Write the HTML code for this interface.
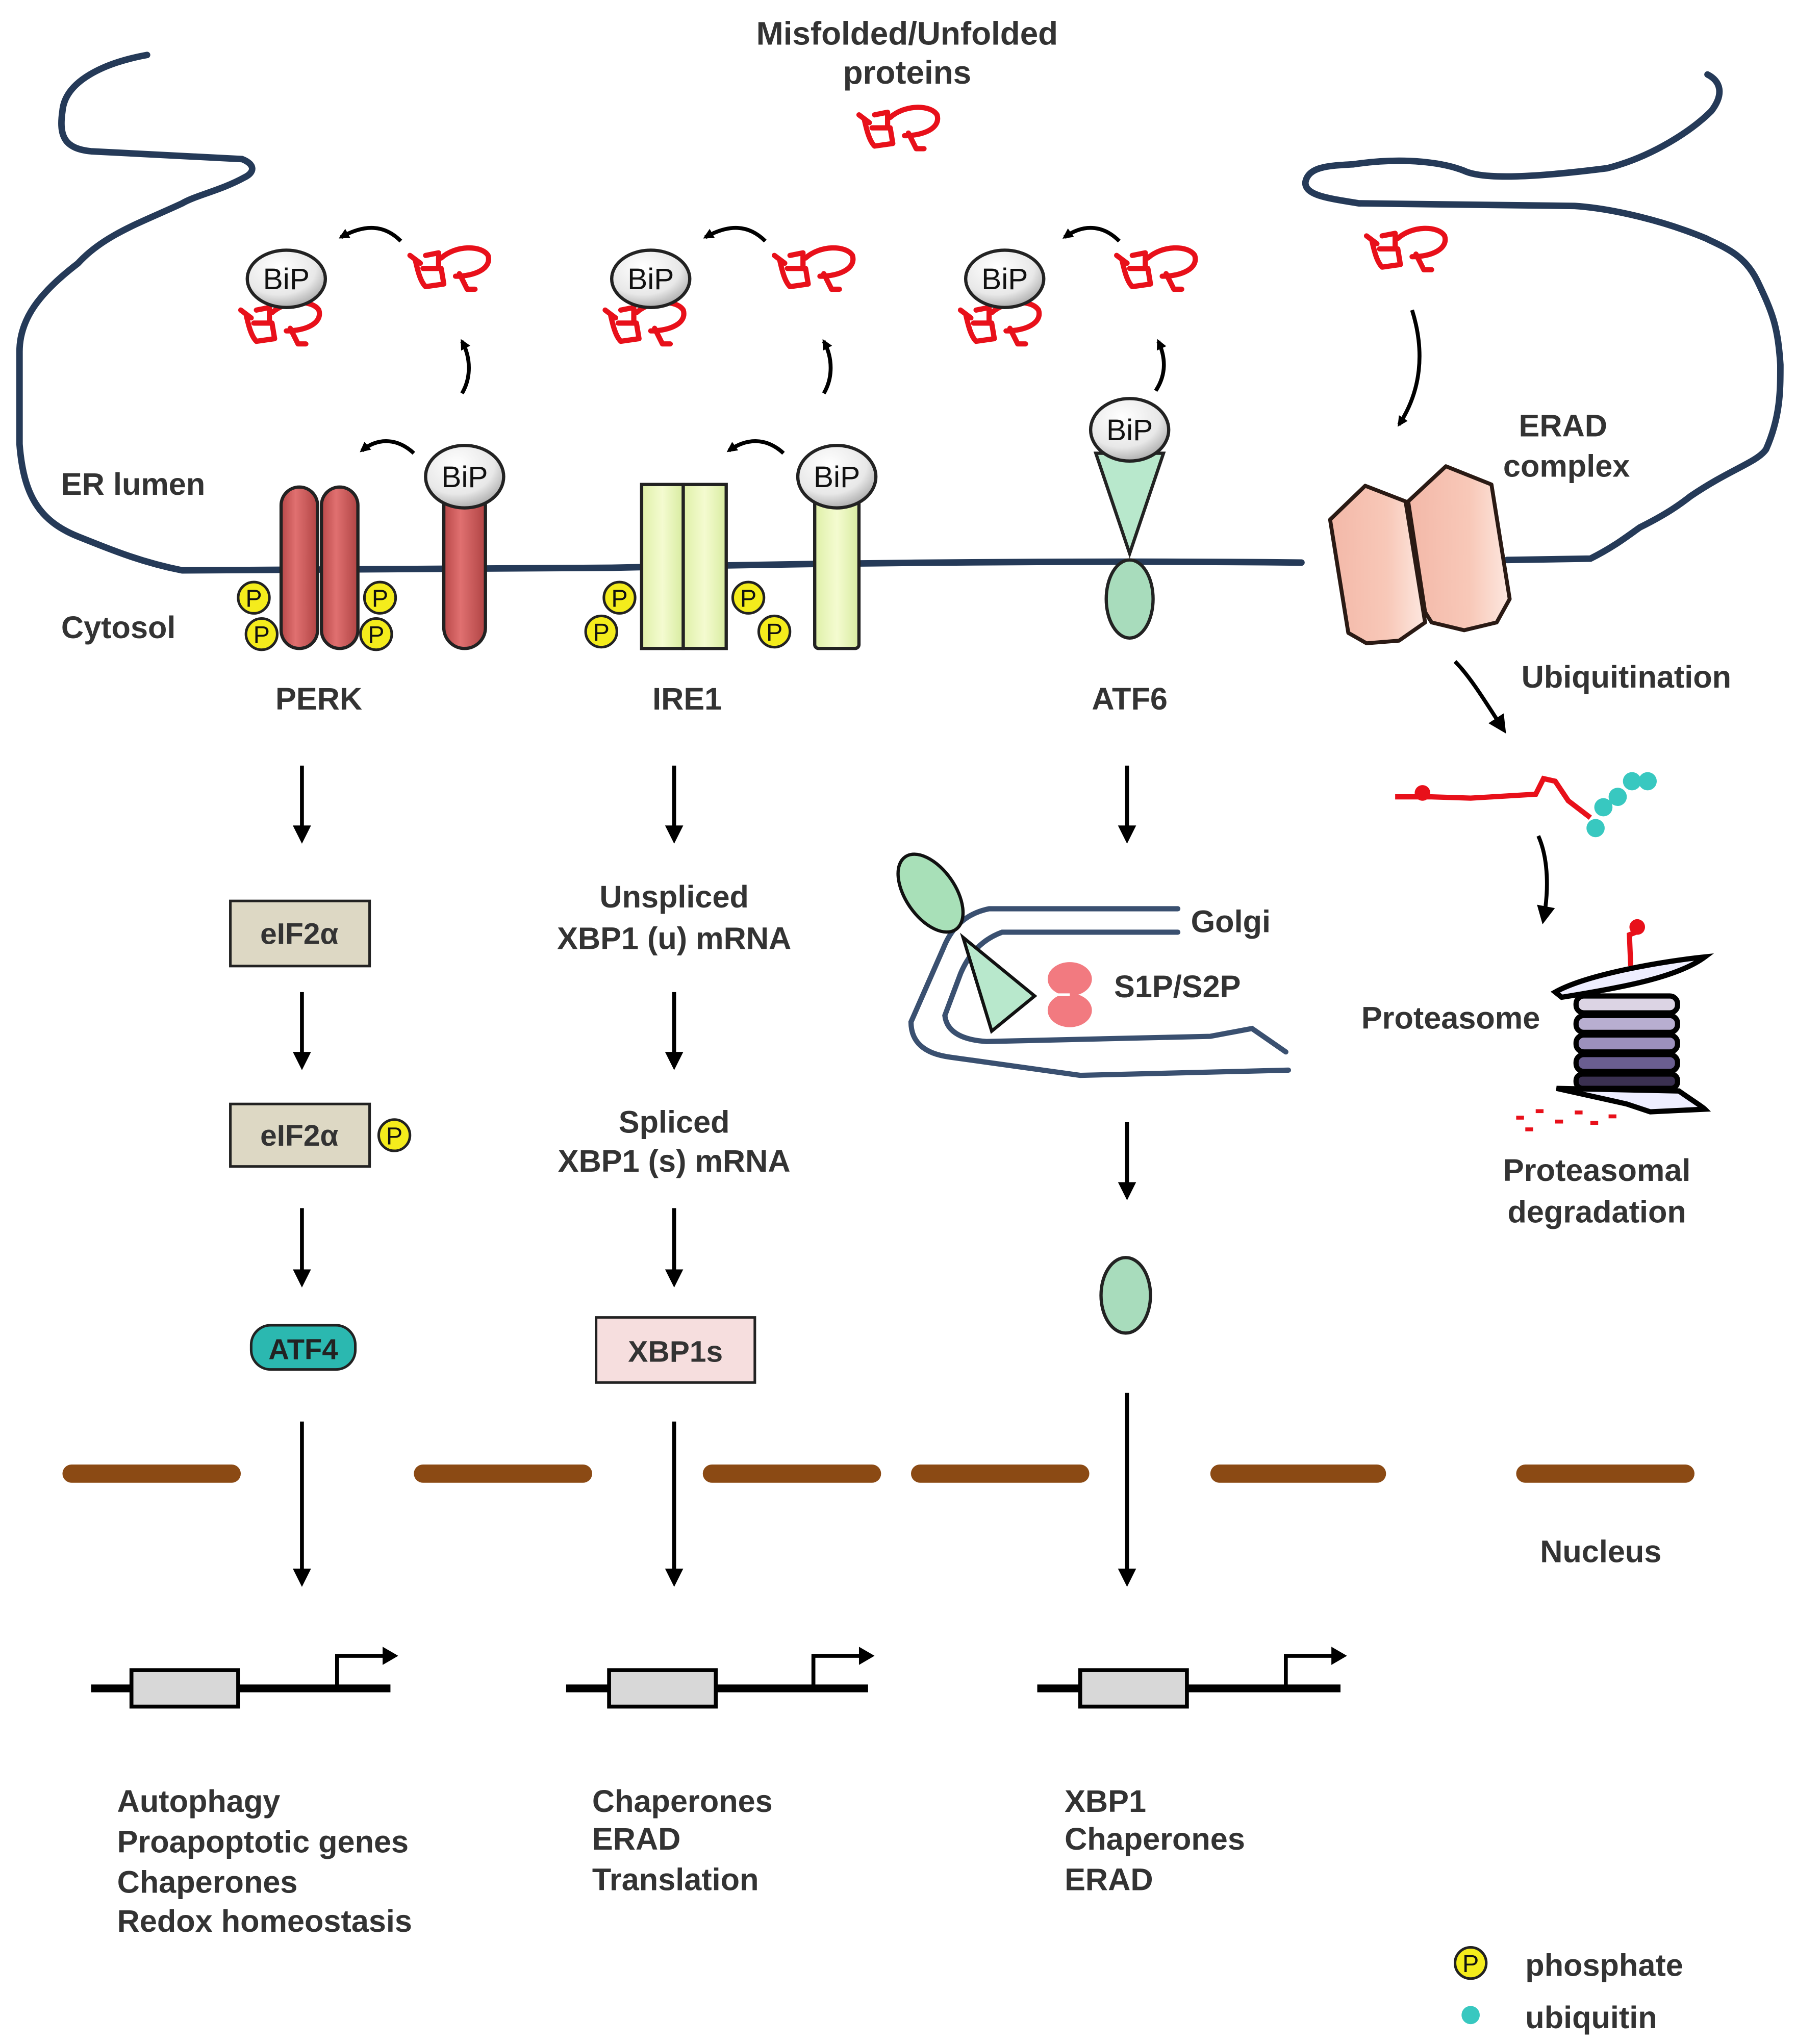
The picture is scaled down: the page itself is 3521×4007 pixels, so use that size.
<!DOCTYPE html>
<html><head><meta charset="utf-8"><style>html,body{margin:0;padding:0;background:#fff}svg{display:block}</style></head>
<body>
<svg width="3521" height="4007" viewBox="0 0 1380 1570" xmlns="http://www.w3.org/2000/svg" font-family="Liberation Sans, Arial, sans-serif">
<defs>
<radialGradient id="bip" cx="0.4" cy="0.3" r="0.8"><stop offset="0" stop-color="#fff"/><stop offset="0.6" stop-color="#e8e8e8"/><stop offset="1" stop-color="#999"/></radialGradient>
<linearGradient id="red" x1="0" x2="1"><stop offset="0" stop-color="#b84848"/><stop offset="0.4" stop-color="#e07070"/><stop offset="1" stop-color="#b04444"/></linearGradient>
<linearGradient id="yg" x1="0" x2="1"><stop offset="0" stop-color="#dff0a8"/><stop offset="0.5" stop-color="#f4fbd0"/><stop offset="1" stop-color="#d8eca0"/></linearGradient>
<linearGradient id="pk" x1="0" x2="1"><stop offset="0" stop-color="#f3b8a8"/><stop offset="0.6" stop-color="#f8c8b8"/><stop offset="1" stop-color="#fde8e0"/></linearGradient>
<g id="prot" fill="none" stroke="#e8101a" stroke-width="4" stroke-linejoin="round" stroke-linecap="round">
<path d="M-30,-12 L-22,-6 M-26,-9 C-24,0 -22,8 -18,12 L-4,10 L-6,-2 L-20,-2 M-18,-12 L-8,-14 L-8,-4 M-6,-10 C5,-20 25,-20 30,-12 C33,-2 20,4 5,4 M8,2 L14,14 L20,14"/>
</g>
<g id="ph"><circle r="12" fill="#f4ec1c" stroke="#222" stroke-width="2"/><text y="7" text-anchor="middle" font-size="19" fill="#111">P</text></g>
<marker id="ah" markerWidth="8" markerHeight="8" refX="6" refY="4" orient="auto" markerUnits="userSpaceOnUse" viewBox="0 0 8 8"><path d="M0,0 L8,4 L0,8 z" fill="#000"/></marker>
<marker id="ah2" markerWidth="14" markerHeight="14" refX="10" refY="7" orient="auto" markerUnits="userSpaceOnUse" viewBox="0 0 14 14"><path d="M0,0 L14,7 L0,14 z" fill="#000"/></marker>
</defs>

<g fill="none" stroke="#253a58" stroke-width="5" stroke-linecap="round" stroke-linejoin="round">
<path d="M113,42 C80,48 50,62 48,85 C45,105 50,114 70,116 L186,122 C196,126 196,132 188,136 C170,146 150,150 140,156 C110,170 80,180 60,202 C30,225 15,245 15,270 L15,341 C18,380 30,400 60,412 C90,424 110,432 140,438 L470,436 C600,433 800,430 1000,432"/>
<path d="M1158,430 L1222,429 C1240,420 1250,412 1260,405 C1280,395 1290,388 1299,381 C1330,360 1350,355 1357,345 C1368,320 1368,300 1368,280 C1366,250 1362,240 1350,215 C1340,195 1325,190 1311,183 C1280,170 1240,160 1210,158 L1044,156 C1020,152 1003,150 1003,140 C1005,128 1020,127 1040,126 C1080,120 1110,125 1125,131 C1140,138 1180,136 1235,129 C1270,120 1300,100 1315,85 C1325,72 1322,62 1312,57"/>
</g>

<g font-size="25" font-weight="bold" fill="#333" text-anchor="middle">
<text x="697" y="34">Misfolded/Unfolded</text>
<text x="697" y="64">proteins</text>
</g>
<use href="#prot" x="690" y="100"/>

<g>
<use href="#prot" x="345" y="208"/><use href="#prot" x="625" y="208"/><use href="#prot" x="888" y="208"/><use href="#prot" x="1080" y="193"/>
<use href="#prot" x="215" y="250"/><use href="#prot" x="495" y="250"/><use href="#prot" x="768" y="250"/>
</g>
<g stroke="#222" stroke-width="2.5" fill="url(#bip)">
<ellipse cx="220" cy="214" rx="30" ry="22"/><ellipse cx="500" cy="214" rx="30" ry="22"/><ellipse cx="772" cy="214" rx="30" ry="22"/>
</g>
<g font-size="23" fill="#111" text-anchor="middle">
<text x="220" y="222">BiP</text><text x="500" y="222">BiP</text><text x="772" y="222">BiP</text>
</g>

<g fill="none" stroke="#000" stroke-width="3" marker-end="url(#ah)">
<path d="M308,185 C295,172 280,172 262,182"/>
<path d="M588,185 C575,172 560,172 542,182"/>
<path d="M860,185 C847,172 832,172 818,182"/>
<path d="M355,302 C362,290 362,275 355,262"/>
<path d="M633,302 C640,290 640,275 633,262"/>
<path d="M888,300 C896,288 896,275 890,262"/>
<path d="M318,348 C305,336 290,336 278,346"/>
<path d="M602,348 C589,336 574,336 560,346"/>
<path d="M1085,238 C1095,270 1092,300 1075,326"/>
</g>

<g stroke="#222" stroke-width="2.5" fill="url(#red)">
<rect x="216" y="374" width="28" height="124" rx="14"/>
<rect x="247" y="374" width="28" height="124" rx="14"/>
<rect x="341" y="372" width="32" height="126" rx="16"/>
</g>
<ellipse cx="357" cy="366" rx="30" ry="24" fill="url(#bip)" stroke="#222" stroke-width="2.5"/>
<text x="357" y="374" font-size="23" text-anchor="middle" fill="#111">BiP</text>
<use href="#ph" x="195" y="459"/><use href="#ph" x="201" y="487"/><use href="#ph" x="292" y="459"/><use href="#ph" x="289" y="487"/>

<g stroke="#222" stroke-width="2.5" fill="url(#yg)">
<rect x="493" y="372" width="32" height="126"/>
<rect x="525" y="372" width="33" height="126"/>
<rect x="626" y="375" width="34" height="123" rx="3"/>
</g>
<ellipse cx="643" cy="366" rx="30" ry="24" fill="url(#bip)" stroke="#222" stroke-width="2.5"/>
<text x="643" y="374" font-size="23" text-anchor="middle" fill="#111">BiP</text>
<use href="#ph" x="476" y="459"/><use href="#ph" x="462" y="485"/><use href="#ph" x="575" y="459"/><use href="#ph" x="595" y="485"/>

<path d="M842,348 L894,348 L868,425 Z" fill="#b8e8cc" stroke="#222" stroke-width="2.5"/>
<ellipse cx="868" cy="460" rx="18" ry="30" fill="#a8dcbc" stroke="#222" stroke-width="2.5"/>
<ellipse cx="868" cy="330" rx="30" ry="24" fill="url(#bip)" stroke="#222" stroke-width="2.5"/>
<text x="868" y="338" font-size="23" text-anchor="middle" fill="#111">BiP</text>

<g stroke="#2a1a14" stroke-width="3" fill="url(#pk)" stroke-linejoin="round">
<path d="M1022,399 L1049,373 L1080,385 L1095,478 L1075,492 L1050,494 L1036,486 Z"/>
<path d="M1082,385 L1111,358 L1146,372 L1160,460 L1150,478 L1125,484 L1100,478 L1095,470 Z"/>
</g>

<g font-size="24" font-weight="bold" fill="#333">
<text x="47" y="380">ER lumen</text>
<text x="47" y="490">Cytosol</text>
<text x="1167" y="335">ERAD</text>
<text x="1155" y="366">complex</text>
<text x="1169" y="528">Ubiquitination</text>
<text x="1046" y="790">Proteasome</text>
<text x="1227" y="907" text-anchor="middle">Proteasomal</text>
<text x="1227" y="939" text-anchor="middle">degradation</text>
<text x="1230" y="1200" text-anchor="middle">Nucleus</text>
<text x="245" y="545" text-anchor="middle">PERK</text>
<text x="528" y="545" text-anchor="middle">IRE1</text>
<text x="868" y="545" text-anchor="middle">ATF6</text>
<text x="518" y="697" text-anchor="middle">Unspliced</text>
<text x="518" y="729" text-anchor="middle">XBP1 (u) mRNA</text>
<text x="518" y="870" text-anchor="middle">Spliced</text>
<text x="518" y="900" text-anchor="middle">XBP1 (s) mRNA</text>
<text x="915" y="716">Golgi</text>
<text x="856" y="766">S1P/S2P</text>
</g>

<g stroke="#000" stroke-width="3" marker-end="url(#ah2)">
<line x1="232" y1="588" x2="232" y2="644"/><line x1="518" y1="588" x2="518" y2="644"/><line x1="866" y1="588" x2="866" y2="644"/>
<line x1="232" y1="762" x2="232" y2="818"/><line x1="518" y1="762" x2="518" y2="818"/>
<line x1="232" y1="928" x2="232" y2="985"/><line x1="518" y1="928" x2="518" y2="985"/>
<line x1="866" y1="862" x2="866" y2="918"/>
<line x1="232" y1="1092" x2="232" y2="1215"/><line x1="518" y1="1092" x2="518" y2="1215"/><line x1="866" y1="1070" x2="866" y2="1215"/>
</g>
<g fill="none" stroke="#000" stroke-width="3" marker-end="url(#ah2)">
<path d="M1118,508 C1130,520 1142,540 1155,560"/>
<path d="M1182,642 C1190,660 1190,685 1186,706"/>
</g>

<rect x="177" y="692" width="107" height="50" fill="#ddd8c4" stroke="#222" stroke-width="2"/>
<text x="230" y="725" font-size="23" font-weight="bold" text-anchor="middle" fill="#333">eIF2α</text>
<rect x="177" y="848" width="107" height="48" fill="#ddd8c4" stroke="#222" stroke-width="2"/>
<text x="230" y="880" font-size="23" font-weight="bold" text-anchor="middle" fill="#333">eIF2α</text>
<use href="#ph" x="303" y="872"/>
<rect x="193" y="1018" width="80" height="34" rx="15" fill="#2bb8b0" stroke="#222" stroke-width="2"/>
<text x="233" y="1044" font-size="22" font-weight="bold" text-anchor="middle" fill="#222">ATF4</text>
<rect x="458" y="1012" width="122" height="50" fill="#f6dede" stroke="#222" stroke-width="2"/>
<text x="519" y="1046" font-size="23" font-weight="bold" text-anchor="middle" fill="#333">XBP1s</text>

<g fill="none" stroke="#3a5070" stroke-width="4" stroke-linecap="round">
<path d="M905,698 L760,698 Q735,703 725,728 L700,785 Q700,808 730,812 L830,826 L990,822"/>
<path d="M905,716 L770,716 Q748,724 738,748 L726,780 Q728,798 758,800 L930,796 L962,790 L988,808"/>
</g>
<ellipse cx="715" cy="686" rx="19" ry="34" transform="rotate(-35 715 686)" fill="#a8e0b8" stroke="#111" stroke-width="2.5"/>
<path d="M740,720 L795,765 L762,792 Z" fill="#b8e8cc" stroke="#111" stroke-width="2.5"/>
<ellipse cx="822" cy="752" rx="17" ry="13" fill="#f27a80"/>
<ellipse cx="822" cy="776" rx="17" ry="13" fill="#f27a80"/>
<path d="M805,764 L822,764" stroke="#fff" stroke-width="2"/>
<ellipse cx="865" cy="995" rx="19" ry="29" fill="#a8dcbc" stroke="#222" stroke-width="2.5"/>

<path d="M1072,612 L1100,612 L1130,613 L1180,610 L1186,598 L1195,600 L1205,615 L1222,628" fill="none" stroke="#e8101a" stroke-width="4"/>
<circle cx="1093" cy="609" r="6" fill="#e8101a"/>
<g fill="#38c8c0"><circle cx="1226" cy="636" r="7"/><circle cx="1232" cy="620" r="7"/><circle cx="1243" cy="612" r="7"/><circle cx="1254" cy="600" r="7"/><circle cx="1266" cy="600" r="7"/></g>

<path d="M1253,742 L1252,718 L1262,714" fill="none" stroke="#e8101a" stroke-width="4"/>
<circle cx="1258" cy="712" r="6" fill="#e8101a"/>
<path d="M1195,762 C1220,748 1280,738 1310,735 C1290,750 1250,758 1200,766 Z" fill="#eef" stroke="#000" stroke-width="4"/>
<g stroke="#000" stroke-width="4">
<rect x="1211" y="765" width="78" height="13" rx="6" fill="#dcd4e4"/>
<rect x="1211" y="780" width="78" height="13" rx="6" fill="#b8aed0"/>
<rect x="1211" y="795" width="78" height="13" rx="6" fill="#9c90bc"/>
<rect x="1211" y="810" width="78" height="13" rx="6" fill="#6a5e90"/>
<rect x="1211" y="825" width="78" height="11" rx="5" fill="#3a3050"/>
</g>
<path d="M1196,836 L1290,838 C1300,845 1308,850 1310,852 L1268,854 L1250,848 Z" fill="#eef" stroke="#000" stroke-width="4"/>
<g fill="#e8101a"><rect x="1165" y="857" width="6" height="3"/><rect x="1180" y="852" width="6" height="3"/><rect x="1195" y="860" width="6" height="3"/><rect x="1210" y="853" width="6" height="3"/><rect x="1222" y="861" width="6" height="3"/><rect x="1172" y="866" width="6" height="3"/><rect x="1236" y="856" width="6" height="3"/></g>

<g fill="#8b4a14">
<rect x="48" y="1125" width="137" height="14" rx="7"/><rect x="318" y="1125" width="137" height="14" rx="7"/>
<rect x="540" y="1125" width="137" height="14" rx="7"/><rect x="700" y="1125" width="137" height="14" rx="7"/>
<rect x="930" y="1125" width="135" height="14" rx="7"/><rect x="1165" y="1125" width="137" height="14" rx="7"/>
</g>

<g>
<line x1="70" y1="1297" x2="300" y2="1297" stroke="#000" stroke-width="6"/>
<rect x="101" y="1283" width="82" height="28" fill="#d8d8d8" stroke="#000" stroke-width="3"/>
<path d="M259,1296 L259,1272 L296,1272" fill="none" stroke="#000" stroke-width="3"/><path d="M294,1265 L306,1272 L294,1279 Z"/>
<line x1="435" y1="1297" x2="667" y2="1297" stroke="#000" stroke-width="6"/>
<rect x="468" y="1283" width="82" height="28" fill="#d8d8d8" stroke="#000" stroke-width="3"/>
<path d="M625,1296 L625,1272 L662,1272" fill="none" stroke="#000" stroke-width="3"/><path d="M660,1265 L672,1272 L660,1279 Z"/>
<line x1="797" y1="1297" x2="1030" y2="1297" stroke="#000" stroke-width="6"/>
<rect x="830" y="1283" width="82" height="28" fill="#d8d8d8" stroke="#000" stroke-width="3"/>
<path d="M988,1296 L988,1272 L1025,1272" fill="none" stroke="#000" stroke-width="3"/><path d="M1023,1265 L1035,1272 L1023,1279 Z"/>
</g>

<g font-size="24" font-weight="bold" fill="#333">
<text x="90" y="1392">Autophagy</text><text x="90" y="1423">Proapoptotic genes</text><text x="90" y="1454">Chaperones</text><text x="90" y="1484">Redox homeostasis</text>
<text x="455" y="1392">Chaperones</text><text x="455" y="1421">ERAD</text><text x="455" y="1452">Translation</text>
<text x="818" y="1392">XBP1</text><text x="818" y="1421">Chaperones</text><text x="818" y="1452">ERAD</text>
<text x="1172" y="1518">phosphate</text><text x="1172" y="1558">ubiquitin</text>
</g>
<use href="#ph" x="1130" y="1508"/>
<circle cx="1130" cy="1548" r="7" fill="#38c8c0"/>
</svg>
</body></html>
